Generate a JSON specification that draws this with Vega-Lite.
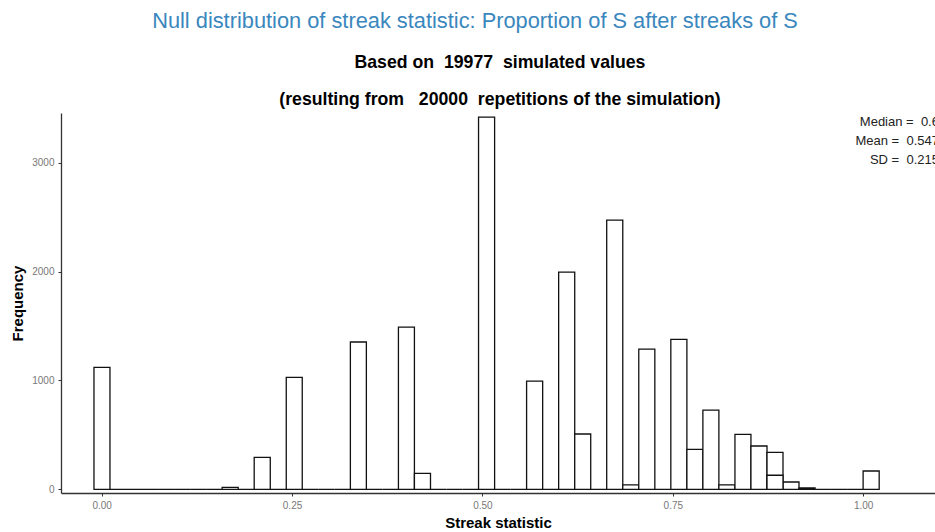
{
  "$schema": "https://vega.github.io/schema/vega-lite/v6.json",
  "autosize": "none",
  "width": 874,
  "height": 380,
  "padding": {"left": 61, "top": 113, "right": 0, "bottom": 39},
  "background": "white",
  "config": {
    "font": "Liberation Sans",
    "view": {"stroke": null},
    "axis": {"grid": false, "domainColor": "#333333", "domainWidth": 1.3, "tickColor": "#333333", "tickSize": 3, "labelColor": "#777777", "labelFontSize": 10, "labelFont": "Liberation Sans", "titleFont": "Liberation Sans", "titleFontWeight": "bold", "titleFontSize": 15, "titleColor": "#000000"}
  },
  "title": {
    "text": "Null distribution of streak statistic: Proportion of S after streaks of S",
    "fontSize": 21.8,
    "fontWeight": "normal",
    "color": "#3a87bd",
    "anchor": "middle",
    "dx": -23,
    "offset": 21
  },
  "datasets": {
    "bins": [
      {"x0": -0.0101, "x1": 0.0109, "count": 1120},
      {"x0": 0.0109, "x1": 0.0320, "count": 0},
      {"x0": 0.0320, "x1": 0.0530, "count": 0},
      {"x0": 0.0530, "x1": 0.0741, "count": 0},
      {"x0": 0.0741, "x1": 0.0951, "count": 0},
      {"x0": 0.0951, "x1": 0.1162, "count": 0},
      {"x0": 0.1162, "x1": 0.1372, "count": 0},
      {"x0": 0.1372, "x1": 0.1582, "count": 0},
      {"x0": 0.1582, "x1": 0.1793, "count": 18},
      {"x0": 0.1793, "x1": 0.2003, "count": 0},
      {"x0": 0.2003, "x1": 0.2214, "count": 294},
      {"x0": 0.2214, "x1": 0.2424, "count": 0},
      {"x0": 0.2424, "x1": 0.2634, "count": 1028},
      {"x0": 0.2634, "x1": 0.2845, "count": 0},
      {"x0": 0.2845, "x1": 0.3055, "count": 0},
      {"x0": 0.3055, "x1": 0.3266, "count": 0},
      {"x0": 0.3266, "x1": 0.3476, "count": 1353},
      {"x0": 0.3476, "x1": 0.3687, "count": 0},
      {"x0": 0.3687, "x1": 0.3897, "count": 0},
      {"x0": 0.3897, "x1": 0.4107, "count": 1490},
      {"x0": 0.4107, "x1": 0.4318, "count": 147},
      {"x0": 0.4318, "x1": 0.4528, "count": 0},
      {"x0": 0.4528, "x1": 0.4739, "count": 0},
      {"x0": 0.4739, "x1": 0.4949, "count": 0},
      {"x0": 0.4949, "x1": 0.5160, "count": 3419},
      {"x0": 0.5160, "x1": 0.5370, "count": 0},
      {"x0": 0.5370, "x1": 0.5580, "count": 0},
      {"x0": 0.5580, "x1": 0.5791, "count": 994},
      {"x0": 0.5791, "x1": 0.6001, "count": 0},
      {"x0": 0.6001, "x1": 0.6212, "count": 1995},
      {"x0": 0.6212, "x1": 0.6422, "count": 508},
      {"x0": 0.6422, "x1": 0.6632, "count": 0},
      {"x0": 0.6632, "x1": 0.6843, "count": 2473},
      {"x0": 0.6843, "x1": 0.7053, "count": 40},
      {"x0": 0.7053, "x1": 0.7264, "count": 1288},
      {"x0": 0.7264, "x1": 0.7474, "count": 0},
      {"x0": 0.7474, "x1": 0.7685, "count": 1377},
      {"x0": 0.7685, "x1": 0.7895, "count": 367},
      {"x0": 0.7895, "x1": 0.8105, "count": 728},
      {"x0": 0.8105, "x1": 0.8316, "count": 40},
      {"x0": 0.8316, "x1": 0.8526, "count": 505},
      {"x0": 0.8526, "x1": 0.8737, "count": 398},
      {"x0": 0.8737, "x1": 0.8947, "count": 340},
      {"x0": 0.8947, "x1": 0.9157, "count": 67},
      {"x0": 0.9157, "x1": 0.9368, "count": 12},
      {"x0": 0.9368, "x1": 0.9578, "count": 0},
      {"x0": 0.9578, "x1": 0.9789, "count": 0},
      {"x0": 0.9789, "x1": 0.9999, "count": 0},
      {"x0": 0.9999, "x1": 1.0210, "count": 168}
    ],
    "inner": [
      {"x0": 0.8737, "x1": 0.8947, "count": 129}
    ],
    "subtitle": [
      {"line": ["Based on\u00a0 19977\u00a0 simulated values", "(resulting from\u00a0 \u00a020000\u00a0 repetitions of the simulation)"]}
    ],
    "stats": [
      {"line": ["Median =\u00a0 0.6", "Mean =\u00a0 0.547", "SD =\u00a0 0.215"]}
    ]
  },
  "layer": [
    {
      "data": {"name": "bins"},
      "mark": {"type": "bar", "fill": "white", "stroke": "#111111", "strokeWidth": 1.3},
      "encoding": {
        "x": {"field": "x0", "type": "quantitative", "scale": {"domain": [-0.0534, 1.0943], "nice": false, "zero": false},
              "axis": {"values": [0, 0.25, 0.5, 0.75, 1.0], "format": ".2f", "title": "Streak statistic", "titlePadding": 5, "labelPadding": 4}},
        "x2": {"field": "x1"},
        "y": {"field": "count", "type": "quantitative", "scale": {"domain": [-34, 3457], "nice": false, "zero": false},
              "axis": {"values": [0, 1000, 2000, 3000], "format": "d", "title": "Frequency", "titlePadding": 6, "labelPadding": 4}},
        "y2": {"datum": 0}
      }
    },
    {
      "data": {"name": "inner"},
      "mark": {"type": "bar", "fill": "white", "stroke": "#111111", "strokeWidth": 1.3},
      "encoding": {
        "x": {"field": "x0", "type": "quantitative"},
        "x2": {"field": "x1"},
        "y": {"field": "count", "type": "quantitative"},
        "y2": {"datum": 0}
      }
    },
    {
      "data": {"name": "subtitle"},
      "mark": {"type": "text", "align": "center", "baseline": "alphabetic", "fontSize": 17.7, "fontWeight": "bold", "color": "#000000", "lineHeight": 37, "clip": false},
      "encoding": {
        "x": {"datum": 0.523},
        "y": {"datum": 3869},
        "text": {"field": "line"}
      }
    },
    {
      "data": {"name": "stats"},
      "mark": {"type": "text", "align": "right", "baseline": "middle", "fontSize": 13, "color": "#222222", "lineHeight": 19, "clip": false},
      "encoding": {
        "x": {"datum": 1.0995},
        "y": {"datum": 3373},
        "text": {"field": "line"}
      }
    }
  ]
}
